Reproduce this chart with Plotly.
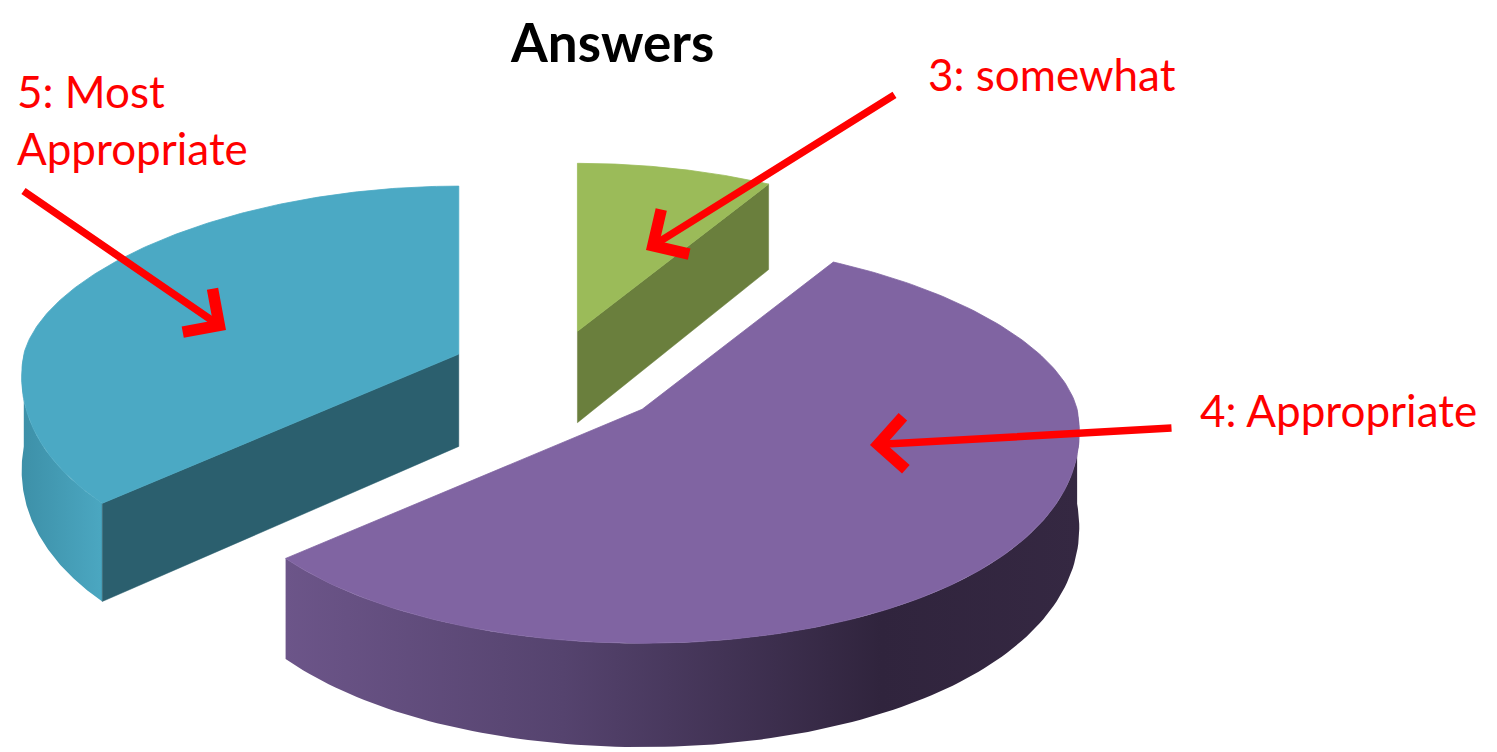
import numpy as np
import plotly.graph_objects as go

# ---- data ----
categories = ["3: somewhat", "4: Appropriate", "5: Most Appropriate"]
counts = [2, 14, 9]
title_text = "Answers"

# ---- style ----
top_colors = ["#9BBB59", "#8064A2", "#4BA9C4"]
radial_colors = ["#6A7F3D", "#4F3D66", "#2B5F6E"]
outer_scales = [
    [[0, "#6A7F3D"], [1, "#6A7F3D"]],
    [[0, "#6C5589"], [0.35, "#55436E"], [0.75, "#30243D"], [1, "#352842"]],
    [[0, "#3D90A8"], [1, "#4BA7C1"]],
]
draw_order = [0, 2, 1]  # back to front

W, H = 1497, 752
C0 = (545.0, 364.0)   # pie centre (canvas units)
A = 435.0             # horizontal radius
BF, BN = 168.0, 234.0 # vertical radius far / near half
PERSP = 0.1           # horizontal shrink toward the back
D0, DK = 93.0, 0.04   # wall depth and its growth toward the front
EXPLODE = 0.25


def proj(c, th, r=1.0):
    th = np.atleast_1d(th).astype(float)
    s = np.sin(np.radians(th))
    b = np.where(s > 0, BF, BN)
    k = 1.0 - PERSP * s
    x = c[0] + A * r * k * np.cos(np.radians(th))
    y = c[1] - r * b * s
    return x, y


def depth(y):
    return D0 + DK * (np.asarray(y, dtype=float) - C0[1])


total = float(sum(counts))
fracs = [v / total for v in counts]
starts, ends = [], []
a0 = 90.0
for f in fracs:
    starts.append(a0)
    ends.append(a0 - 360.0 * f)
    a0 -= 360.0 * f

fig = go.Figure()


def add_poly(x, y, color=None, grad=None, lw=0):
    kw = dict(x=np.append(x, x[0]), y=np.append(y, y[0]), mode="lines",
              fill="toself", hoverinfo="skip", showlegend=False)
    if grad is not None:
        kw["fillgradient"] = dict(type="horizontal", colorscale=grad)
        kw["line"] = dict(width=0, color=grad[0][1])
    else:
        kw["fillcolor"] = color
        kw["line"] = dict(width=lw, color=color)
    fig.add_trace(go.Scatter(**kw))


for i in draw_order:
    t0, t1 = starts[i], ends[i]
    mid = (t0 + t1) / 2.0
    ex, ey = proj((0.0, 0.0), mid, EXPLODE)
    c = (C0[0] + ex[0], C0[1] + ey[0])

    # outer curved wall (front half only)
    for k in (0, -360):
        lo, hi = max(t1, -180 + k), min(t0, 0 + k)
        if hi - lo > 0.01:
            th = np.linspace(hi, lo, 120)
            xt, yt = proj(c, th)
            xs = np.concatenate([xt, xt[::-1]])
            ys = np.concatenate([yt, yt[::-1] + depth(yt[::-1])])
            add_poly(xs, ys, grad=outer_scales[i])

    # radial walls
    for edge, normal in ((t0, t0 + 90), (t1, t1 - 90)):
        if np.sin(np.radians(normal)) < -0.05:
            xr, yr = proj(c, edge)
            xs = np.array([c[0], xr[0], xr[0], c[0]])
            ys = np.array([c[1], yr[0], yr[0] + depth(yr[0]), c[1] + depth(c[1])])
            add_poly(xs, ys, color=radial_colors[i], lw=0.5)

    # top face
    th = np.linspace(t0, t1, 200)
    xt, yt = proj(c, th)
    add_poly(np.concatenate([[c[0]], xt]), np.concatenate([[c[1]], yt]),
             color=top_colors[i], lw=0.8)

# ---- labels & arrows ----
label_font = dict(family="Lato, Calibri, sans-serif", size=44, color="#FF0000")
label_pos = {
    0: (918, 66),
    1: (1190, 402),
    2: (7, 111),
}
arrows = {  # tail -> tip
    0: ((888, 86), (638, 242)),
    1: ((1165, 420), (862, 437)),
    2: ((14, 182), (218, 322)),
}
for i, name in enumerate(categories):
    txt = name.replace("Most ", "Most<br>")
    lx, ly = label_pos[i]
    fig.add_annotation(x=lx, y=ly, xref="x", yref="y", text=txt, showarrow=False,
                       xanchor="left", yanchor="middle", align="left", font=label_font)
    (tx, ty), (hx, hy) = arrows[i]
    fig.add_annotation(x=hx, y=hy, ax=tx, ay=ty, xref="x", yref="y", axref="x", ayref="y",
                       text="", showarrow=True, arrowhead=4, arrowsize=1.35,
                       arrowwidth=7.5, arrowcolor="#FF0000", standoff=0, startstandoff=0)

fig.add_annotation(x=604, y=0, xref="x", yref="y", text="<b>" + title_text + "</b>",
                   showarrow=False, xanchor="center", yanchor="top",
                   font=dict(family="Lato, Calibri, sans-serif", size=53, color="#000000"))

fig.update_xaxes(range=[0, W], visible=False, fixedrange=True)
fig.update_yaxes(range=[H, 0], visible=False, fixedrange=True)
fig.update_layout(width=W, height=H, margin=dict(l=0, r=0, t=0, b=0),
                  plot_bgcolor="white", paper_bgcolor="white", showlegend=False)

fig.write_html("out.html")
